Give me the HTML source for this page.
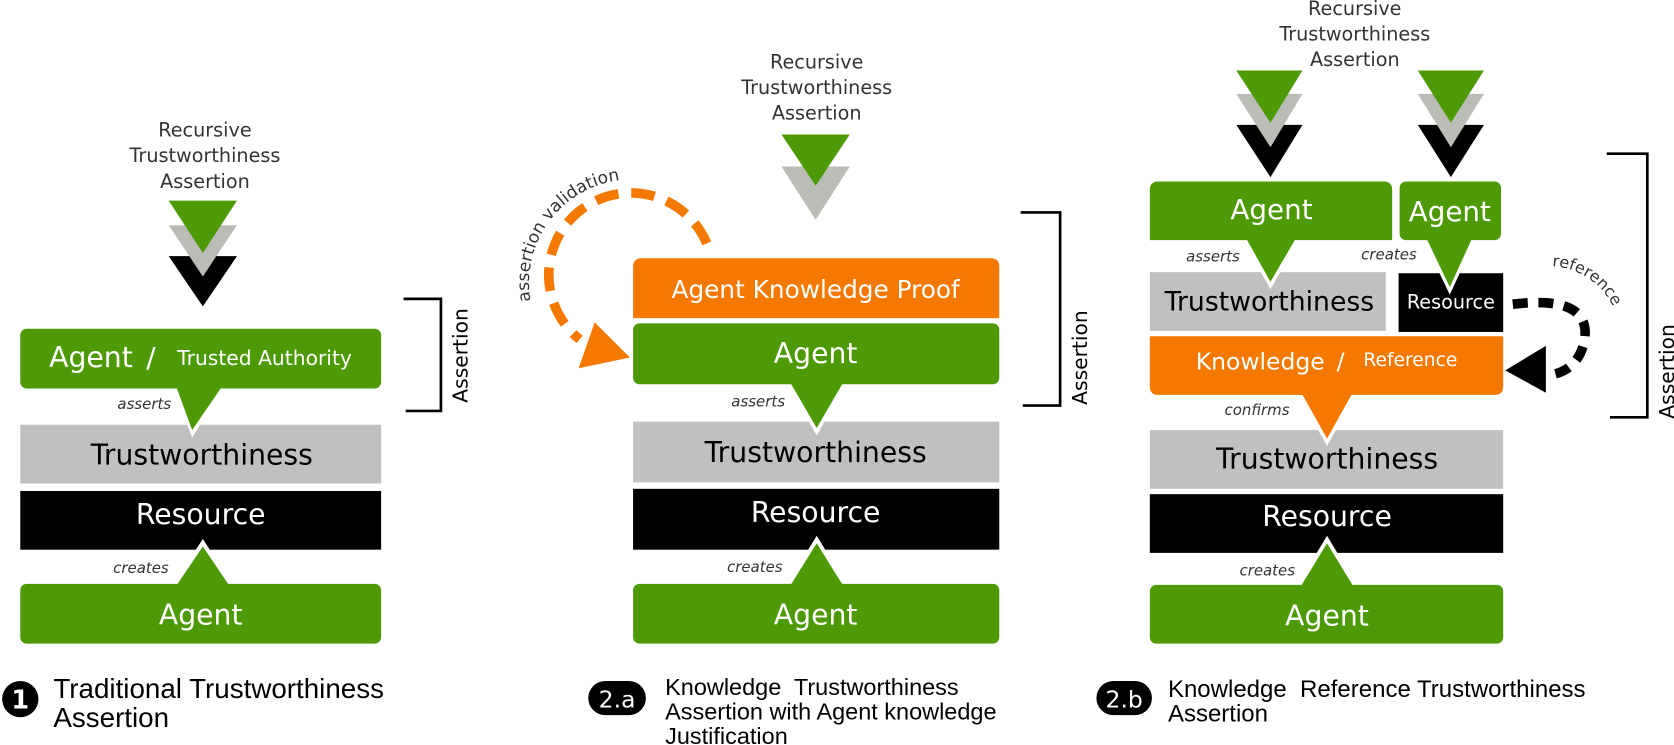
<!DOCTYPE html>
<html><head><meta charset="utf-8"><style>
html,body{margin:0;padding:0;background:#fff;}
svg{display:block;}
.t{font-family:"DejaVu Sans","Liberation Sans",sans-serif;}
.f{font-family:"Liberation Sans","DejaVu Sans",sans-serif;}
</style></head><body>
<svg width="1674" height="745" viewBox="0 0 1568 698" preserveAspectRatio="none" xmlns="http://www.w3.org/2000/svg">
<defs>
<path id="arcA" d="M497,282 A97,97 0 0 1 612,170"/>
<path id="arcR" d="M1440,250 A68,68 0 0 1 1518,318"/>
</defs>

<!-- ============ PANEL 1 ============ -->
<g class="t" fill="#333" font-size="18" text-anchor="middle">
<text x="192" y="128">Recursive</text>
<text x="192" y="152">Trustworthiness</text>
<text x="192" y="176">Assertion</text>
</g>
<polygon points="158,240 222,240 190,287" fill="#000"/>
<polygon points="158,211 222,211 190,259" fill="#babdb6"/>
<polygon points="158,188 222,188 190,237" fill="#4e9a06"/>

<rect x="19" y="398" width="338" height="55" fill="#c0c0c0"/>
<rect x="19" y="460" width="338" height="55" fill="#000"/>
<polygon points="161,360 211,360 180,410" fill="#fff"/>
<rect x="19" y="308" width="338" height="56" rx="6" fill="#4e9a06"/>
<polygon points="165,362 208,362 180,403" fill="#4e9a06"/>
<polygon points="190,505 160,551 220,551" fill="#fff"/>
<rect x="19" y="547" width="338" height="56" rx="6" fill="#4e9a06"/>
<polygon points="190,512 165,549 215,549" fill="#4e9a06"/>

<g class="t" fill="#fff">
<text x="46" y="344" font-size="26.5">Agent</text>
<text x="137" y="344" font-size="26">/</text>
<text x="166" y="342" font-size="19">Trusted Authority</text>
<text x="188" y="491" font-size="26.5" text-anchor="middle">Resource</text>
<text x="188" y="585" font-size="26.5" text-anchor="middle">Agent</text>
</g>
<text class="t" x="189" y="435" font-size="26.5" text-anchor="middle" fill="#000">Trustworthiness</text>
<g class="t" fill="#333" font-size="14" font-style="italic">
<text x="110" y="383">asserts</text>
<text x="106" y="537">creates</text>
</g>
<polyline points="378,280 413,280 413,385 380,385" fill="none" stroke="#000" stroke-width="2.5"/>
<text class="t" transform="translate(438,333) rotate(-90)" font-size="19" text-anchor="middle" fill="#000">Assertion</text>

<circle cx="19" cy="655" r="17" fill="#000"/>
<text class="t" x="19" y="664" font-size="24" font-weight="bold" fill="#fff" text-anchor="middle">1</text>
<g class="f" font-size="26" fill="#000">
<text x="50" y="654">Traditional Trustworthiness</text>
<text x="50" y="681">Assertion</text>
</g>

<!-- ============ PANEL 2.a ============ -->
<g class="t" fill="#333" font-size="18" text-anchor="middle">
<text x="765" y="64">Recursive</text>
<text x="765" y="88">Trustworthiness</text>
<text x="765" y="112">Assertion</text>
</g>
<polygon points="732,156 796,156 764,206" fill="#babdb6"/>
<polygon points="732,126 796,126 764,174" fill="#4e9a06"/>

<path d="M662,228 A77,77 0 1 0 543,318" fill="none" stroke="#f57900" stroke-width="9" stroke-dasharray="22,12"/>
<polygon points="557,302 590,335 542,345" fill="#f57900"/>
<text class="t" font-size="16" fill="#333"><textPath href="#arcA">assertion validation</textPath></text>

<path d="M593,298 V250 Q593,242 601,242 H928 Q936,242 936,250 V298 Z" fill="#f57900"/>
<rect x="593" y="395" width="343" height="57" fill="#c0c0c0"/>
<rect x="593" y="458" width="343" height="57" fill="#000"/>
<polygon points="736,357 794,357 765,408" fill="#fff"/>
<rect x="593" y="303" width="343" height="57" rx="6" fill="#4e9a06"/>
<polygon points="740,358 790,358 765,401" fill="#4e9a06"/>
<polygon points="765,502 735,551 795,551" fill="#fff"/>
<rect x="593" y="547" width="343" height="56" rx="6" fill="#4e9a06"/>
<polygon points="765,509 740,549 790,549" fill="#4e9a06"/>

<g class="t" fill="#fff" text-anchor="middle">
<text x="764" y="279" font-size="23.2">Agent Knowledge Proof</text>
<text x="764" y="340" font-size="26.5">Agent</text>
<text x="764" y="489" font-size="26.5">Resource</text>
<text x="764" y="585" font-size="26.5">Agent</text>
</g>
<text class="t" x="764" y="433" font-size="26.5" text-anchor="middle" fill="#000">Trustworthiness</text>
<g class="t" fill="#333" font-size="14" font-style="italic">
<text x="685" y="381">asserts</text>
<text x="681" y="536">creates</text>
</g>
<polyline points="956,199 993,199 993,380 958,380" fill="none" stroke="#000" stroke-width="2.5"/>
<text class="t" transform="translate(1018,335) rotate(-90)" font-size="19" text-anchor="middle" fill="#000">Assertion</text>

<rect x="551" y="638" width="54" height="32" rx="16" fill="#000"/>
<text class="t" x="578" y="663" font-size="22" fill="#fff" text-anchor="middle">2.a</text>
<g class="f" font-size="22" fill="#000">
<text x="623" y="651">Knowledge&#160; Trustworthiness</text>
<text x="623" y="674">Assertion with Agent knowledge</text>
<text x="623" y="697">Justification</text>
</g>

<!-- ============ PANEL 2.b ============ -->
<g class="t" fill="#333" font-size="18" text-anchor="middle">
<text x="1269" y="14">Recursive</text>
<text x="1269" y="38">Trustworthiness</text>
<text x="1269" y="62">Assertion</text>
</g>
<polygon points="1158,117 1220,117 1190,166" fill="#000"/>
<polygon points="1158,88 1220,88 1190,138" fill="#babdb6"/>
<polygon points="1158,66 1220,66 1190,115" fill="#4e9a06"/>
<polygon points="1328,117 1390,117 1359,166" fill="#000"/>
<polygon points="1328,88 1390,88 1359,138" fill="#babdb6"/>
<polygon points="1328,66 1390,66 1359,115" fill="#4e9a06"/>

<rect x="1077" y="255" width="221" height="55" fill="#c0c0c0"/>
<rect x="1310" y="256" width="98" height="55" fill="#000"/>
<rect x="1077" y="403" width="331" height="55" fill="#c0c0c0"/>
<rect x="1077" y="463" width="331" height="55" fill="#000"/>
<polygon points="1163,222 1218,222 1190,271" fill="#fff"/>
<path d="M1077,225 V178 Q1077,170 1085,170 H1296 Q1304,170 1304,178 V225 Z" fill="#4e9a06"/>
<polygon points="1167,223 1214,223 1190,264" fill="#4e9a06"/>
<polygon points="1332,222 1383,222 1358,276" fill="#fff"/>
<rect x="1311" y="170" width="95" height="55" rx="6" fill="#4e9a06"/>
<polygon points="1336,223 1379,223 1358,269" fill="#4e9a06"/>
<polygon points="1215,367 1271,367 1243,418" fill="#fff"/>
<path d="M1077,315 H1408 V362 Q1408,370 1400,370 H1085 Q1077,370 1077,362 Z" fill="#f57900"/>
<polygon points="1219,368 1267,368 1243,411" fill="#f57900"/>
<polygon points="1243,502 1213,552 1273,552" fill="#fff"/>
<rect x="1077" y="548" width="331" height="55" rx="6" fill="#4e9a06"/>
<polygon points="1243,509 1218,550 1268,550" fill="#4e9a06"/>

<g class="t" fill="#fff">
<text x="1191" y="205" font-size="26" text-anchor="middle">Agent</text>
<text x="1358" y="207" font-size="26" text-anchor="middle">Agent</text>
<text x="1359" y="289" font-size="18" text-anchor="middle">Resource</text>
<text x="1120" y="346" font-size="22">Knowledge</text>
<text x="1252" y="346" font-size="22">/</text>
<text x="1277" y="343" font-size="17.5">Reference</text>
<text x="1243" y="493" font-size="26.5" text-anchor="middle">Resource</text>
<text x="1243" y="586" font-size="26.5" text-anchor="middle">Agent</text>
</g>
<g class="t" fill="#000" text-anchor="middle">
<text x="1189" y="291" font-size="25">Trustworthiness</text>
<text x="1243" y="439" font-size="26.5">Trustworthiness</text>
</g>
<g class="t" fill="#333" font-size="14" font-style="italic">
<text x="1111" y="245">asserts</text>
<text x="1275" y="243">creates</text>
<text x="1147" y="389">confirms</text>
<text x="1161" y="539">creates</text>
</g>

<path d="M1417,285 Q1492,276 1484,320 Q1478,346 1454,351" fill="none" stroke="#000" stroke-width="9" stroke-dasharray="14,10"/>
<polygon points="1410,347 1448,324 1448,368" fill="#000"/>
<text class="t" font-size="15" fill="#333"><textPath href="#arcR" startOffset="14">reference</textPath></text>

<polyline points="1505,144 1543,144 1543,391 1508,391" fill="none" stroke="#000" stroke-width="2.5"/>
<text class="t" transform="translate(1568,348) rotate(-90)" font-size="19" text-anchor="middle" fill="#000">Assertion</text>

<rect x="1027" y="638" width="52" height="32" rx="16" fill="#000"/>
<text class="t" x="1053" y="663" font-size="22" fill="#fff" text-anchor="middle">2.b</text>
<g class="f" font-size="22.5" fill="#000">
<text x="1094" y="653">Knowledge&#160; Reference Trustworthiness</text>
<text x="1094" y="676">Assertion</text>
</g>
</svg>
</body></html>
